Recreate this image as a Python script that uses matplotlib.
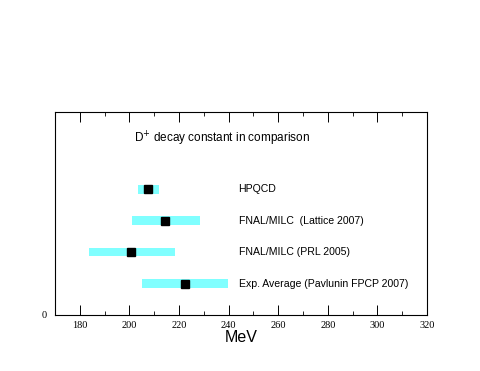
import matplotlib.pyplot as plt
from matplotlib.ticker import MultipleLocator

# Data: D+ decay constant results (MeV)
labels = ["HPQCD", "FNAL/MILC  (Lattice 2007)", "FNAL/MILC (PRL 2005)",
          "Exp. Average (Pavlunin FPCP 2007)"]
central = [207.5, 214.5, 200.8, 222.6]
low = [203.6, 201.0, 183.6, 205.2]
high = [212.0, 228.4, 218.3, 239.9]
rows = [4, 3, 2, 1]

fig = plt.figure(figsize=(4.8, 3.71), dpi=100)
ax = fig.add_axes([0.1146, 0.151, 0.775, 0.547])

for y, lo, hi, c, lab in zip(rows, low, high, central, labels):
    ax.barh(y, hi - lo, left=lo, height=0.28, color="#80ffff", linewidth=0)
    ax.plot(c, y, marker="s", color="black", markersize=5.8, linestyle="none")
    ax.text(244, y, lab, va="center", ha="left", fontsize=7.6,
            family="Liberation Sans")

ax.text(202, 5.6, "D$^{+}$ decay constant in comparison", va="center",
        ha="left", fontsize=8.5, family="Liberation Sans")

ax.set_xlim(170, 320)
ax.set_ylim(0, 6.45)
ax.xaxis.set_major_locator(MultipleLocator(20))
ax.xaxis.set_minor_locator(MultipleLocator(10))
ax.set_yticks([0])
ax.tick_params(axis="x", which="both", direction="in", top=True, pad=4)
ax.tick_params(axis="x", which="major", length=7, width=0.7)
ax.tick_params(axis="x", which="minor", length=3, width=0.6)
ax.tick_params(axis="y", length=0, pad=6)
for lab in ax.get_xticklabels() + ax.get_yticklabels():
    lab.set_fontfamily("Liberation Serif")
    lab.set_fontsize(7.5)
ax.set_xlabel("MeV", fontsize=11.5, family="Liberation Sans", labelpad=0)
for s in ax.spines.values():
    s.set_linewidth(0.8)

fig.savefig("out.png", dpi=100)
